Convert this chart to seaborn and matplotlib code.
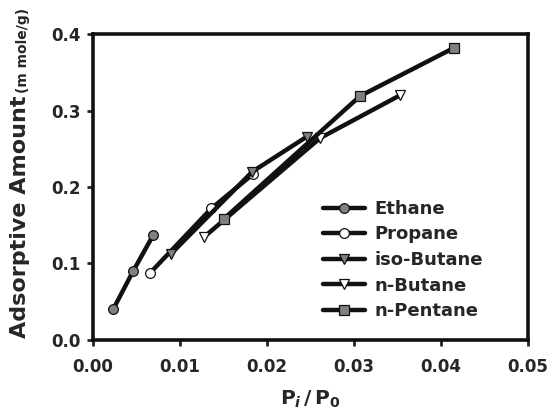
import matplotlib
matplotlib.use("Agg")
import matplotlib.pyplot as plt
import seaborn as sns
import pandas as pd

sns.set_style("ticks")
plt.rcParams['font.family'] = ['DejaVu Sans']
plt.rcParams['font.weight'] = 'bold'
plt.rcParams['mathtext.fontset'] = 'custom'
plt.rcParams['mathtext.bf'] = 'DejaVu Sans:bold'
plt.rcParams['mathtext.it'] = 'DejaVu Sans:bold:italic'
plt.rcParams['mathtext.rm'] = 'DejaVu Sans:bold'

# data
ethane_x = [0.0023, 0.0046, 0.0069]
ethane_y = [0.040, 0.090, 0.137]
propane_x = [0.0065, 0.0136, 0.0184]
propane_y = [0.087, 0.172, 0.217]
isobutane_x = [0.0089, 0.0183, 0.0246]
isobutane_y = [0.112, 0.220, 0.266]
nbutane_x = [0.0128, 0.0261, 0.0353]
nbutane_y = [0.135, 0.264, 0.320]
npentane_x = [0.0150, 0.0307, 0.0415]
npentane_y = [0.158, 0.319, 0.382]

series = [
    ("Ethane", ethane_x, ethane_y, 'o', '#808080'),
    ("Propane", propane_x, propane_y, 'o', 'white'),
    ("iso-Butane", isobutane_x, isobutane_y, 'v', '#808080'),
    ("n-Butane", nbutane_x, nbutane_y, 'v', 'white'),
    ("n-Pentane", npentane_x, npentane_y, 's', '#808080'),
]

fig = plt.figure(figsize=(5.58, 4.16), dpi=100)
ax = fig.add_axes([0.167, 0.183, 0.779, 0.735])

for name, xs, ys, mk, fc in series:
    df = pd.DataFrame({"x": xs, "y": ys})
    sns.lineplot(data=df, x="x", y="y", ax=ax, color='#111111', lw=3.2,
                 marker=mk, markersize=7, markerfacecolor=fc,
                 markeredgecolor='#111111', markeredgewidth=0.9, label=name)

ax.set_xlim(0, 0.05)
ax.set_ylim(0, 0.4)
ax.set_xticks([0, 0.01, 0.02, 0.03, 0.04, 0.05])
ax.set_xticklabels(["0.00", "0.01", "0.02", "0.03", "0.04", "0.05"])
ax.set_yticks([0, 0.1, 0.2, 0.3, 0.4])
ax.set_yticklabels(["0.0", "0.1", "0.2", "0.3", "0.4"])
ax.tick_params(axis='both', labelsize=12, width=2, length=4, direction='out')
ax.tick_params(axis='x', pad=9)
ax.tick_params(axis='y', pad=5)
for lab in ax.get_xticklabels() + ax.get_yticklabels():
    lab.set_fontweight('bold')
for sp in ax.spines.values():
    sp.set_linewidth(2.6)
    sp.set_color('#111111')

ax.set_xlabel(r"$\mathbf{P}_{\mathit{i}}\,\mathbf{/}\,\mathbf{P}_{\mathbf{0}}$", fontsize=14.5, labelpad=9)
ax.set_ylabel("")

leg = ax.legend(loc='upper left', bbox_to_anchor=(0.529, 0.458), frameon=False,
                prop={'weight': 'bold', 'size': 13}, handlelength=2.3,
                labelspacing=0.42, handletextpad=0.55, borderpad=0, borderaxespad=0)

# y label in two sizes
t1 = fig.text(0.036, 1 - 338/416, "Adsorptive Amount ", rotation=90, fontsize=16,
              fontweight='bold', ha='center', va='bottom')
fig.canvas.draw()
bb = t1.get_window_extent()
top = bb.y1 / fig.bbox.height
fig.text(0.036 + 0.006, top - 0.012, "(m mole/g)", rotation=90, fontsize=10,
         fontweight='bold', ha='center', va='bottom')

fig.savefig("out.png", dpi=100)
